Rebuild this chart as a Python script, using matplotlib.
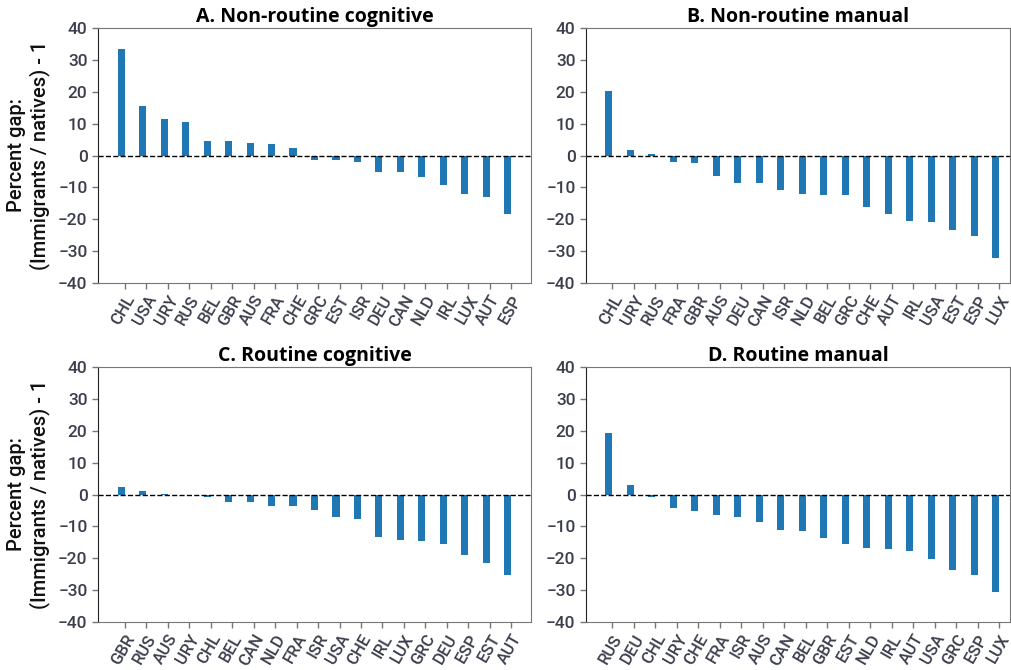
import matplotlib
matplotlib.use("Agg")
import matplotlib.pyplot as plt
import numpy as np

# Panel A: Non-routine cognitive
a_countries = ["CHL", "USA", "URY", "RUS", "BEL", "GBR", "AUS", "FRA", "CHE", "GRC",
               "EST", "ISR", "DEU", "CAN", "NLD", "IRL", "LUX", "AUT", "ESP"]
a_values = [33.3, 15.4, 11.6, 10.4, 4.7, 4.4, 3.8, 3.5, 2.5, -1.5,
            -1.5, -1.9, -5.3, -5.3, -6.6, -9.4, -12.2, -12.9, -18.5]

# Panel B: Non-routine manual
b_countries = ["CHL", "URY", "RUS", "FRA", "GBR", "AUS", "DEU", "CAN", "ISR", "NLD",
               "BEL", "GRC", "CHE", "AUT", "IRL", "USA", "EST", "ESP", "LUX"]
b_values = [20.1, 1.6, 0.6, -1.9, -2.2, -6.3, -8.5, -8.5, -10.7, -12.2,
            -12.5, -12.5, -16.0, -18.2, -20.4, -21.0, -23.5, -25.1, -32.3]

# Panel C: Routine cognitive
c_countries = ["GBR", "RUS", "AUS", "URY", "CHL", "BEL", "CAN", "NLD", "FRA", "ISR",
               "USA", "CHE", "IRL", "LUX", "GRC", "DEU", "ESP", "EST", "AUT"]
c_values = [2.4, 1.1, 0.2, -0.1, -0.7, -2.3, -2.3, -3.5, -3.5, -4.8,
            -7.0, -7.6, -13.3, -14.4, -14.7, -15.4, -18.9, -21.4, -25.2]

# Panel D: Routine manual
d_countries = ["RUS", "DEU", "CHL", "URY", "CHE", "FRA", "ISR", "AUS", "CAN", "BEL",
               "GBR", "EST", "NLD", "IRL", "AUT", "USA", "GRC", "ESP", "LUX"]
d_values = [19.3, 3.0, -0.7, -4.2, -5.1, -6.4, -7.0, -8.6, -11.1, -11.4,
            -13.6, -15.5, -16.7, -17.0, -17.6, -20.1, -23.6, -25.1, -30.7]

titles = ["A. Non-routine cognitive", "B. Non-routine manual",
          "C. Routine cognitive", "D. Routine manual"]
yticks = [-40, -30, -20, -10, 0, 10, 20, 30, 40]
ylabel = "Percent gap:\n(Immigrants / natives) - 1"

panels = [(a_countries, a_values), (b_countries, b_values),
          (c_countries, c_values), (d_countries, d_values)]

fig = plt.figure(figsize=(10.12, 6.70), dpi=100)
W, H = 1012, 670
boxes = [(98, 28, 531, 283), (586, 28, 1010, 283),
         (98, 367, 531, 622), (586, 367, 1010, 622)]

tick_color = "#3b3f4c"
bar_w = 0.33
for i, ((cats, vals), title, box) in enumerate(zip(panels, titles, boxes)):
    l, t, r, b = box
    ax = fig.add_axes([l / W, 1 - b / H, (r - l) / W, (b - t) / H])
    x = np.arange(len(cats))
    ax.bar(x - bar_w / 2, vals, bar_w, color="#1f77b4")
    ax.axhline(0, color="black", linestyle="--", linewidth=1.0)
    ax.set_ylim(-40, 40)
    ax.set_yticks(yticks)
    ax.set_xticks(x)
    ax.set_xticklabels(cats, rotation=60, ha="right", rotation_mode="anchor",
                       fontsize=12, color=tick_color, family="Roboto", fontweight="medium")
    for lab in ax.get_yticklabels():
        lab.set_fontsize(12.5)
        lab.set_color(tick_color)
        lab.set_family("Roboto")
        lab.set_fontweight("medium")
    if i % 2 == 1:
        ax.set_xlim(-1.22, 18.5)
    ax.tick_params(axis="both", length=4, color="#777777", width=1)
    ax.tick_params(axis="x", pad=3)
    for side in ["top", "right", "bottom"]:
        ax.spines[side].set_color("#777777")
    ax.spines["left"].set_color("#222222")
    ax.set_title(title, fontsize=14, fontweight="bold", family="Open Sans", pad=4)
    if i % 2 == 0:
        ax.set_ylabel(ylabel, fontsize=14.5, family="Roboto", fontweight="medium",
                      labelpad=6, color="#111111")

fig.savefig("out.png", dpi=100)
